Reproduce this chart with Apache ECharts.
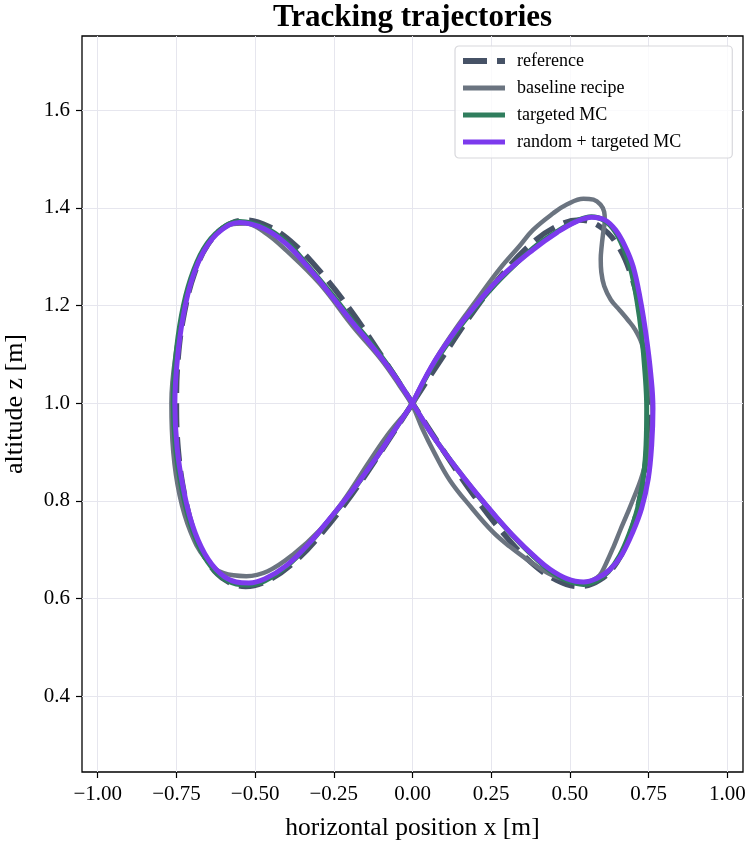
<!DOCTYPE html>
<html>
<head>
<meta charset="utf-8">
<script src="https://cdn.jsdelivr.net/npm/echarts@6/dist/echarts.min.js"></script>
<style>
  html, body { margin: 0; padding: 0; background: #ffffff; }
  #chart { width: 745px; height: 841px; }
</style>
</head>
<body>
<div id="chart"></div>
<script>
// Series names, in drawing order
const seriesNames = ['reference', 'baseline recipe', 'targeted MC', 'random + targeted MC'];

// Tick positions
const xTicks = [-1.0, -0.75, -0.5, -0.25, 0.0, 0.25, 0.5, 0.75, 1.0];
const zTicks = [0.4, 0.6, 0.8, 1.0, 1.2, 1.4, 1.6];

// [x, z] points of each trajectory
const reference = [
  [0.000,1.000],[0.098,1.097],[0.194,1.188],[0.287,1.265],[0.375,1.325],[0.457,1.362],[0.530,1.375],
  [0.595,1.362],[0.650,1.325],[0.693,1.265],[0.724,1.188],[0.744,1.097],[0.750,1.000],[0.744,0.903],
  [0.724,0.812],[0.693,0.735],[0.650,0.675],[0.595,0.638],[0.530,0.625],[0.457,0.638],[0.375,0.675],
  [0.287,0.735],[0.194,0.812],[0.098,0.903],[0.000,1.000],[-0.098,1.097],[-0.194,1.188],[-0.287,1.265],
  [-0.375,1.325],[-0.457,1.362],[-0.530,1.375],[-0.595,1.362],[-0.650,1.325],[-0.693,1.265],[-0.724,1.188],
  [-0.744,1.097],[-0.750,1.000],[-0.744,0.903],[-0.724,0.812],[-0.693,0.735],[-0.650,0.675],[-0.595,0.638],
  [-0.530,0.625],[-0.457,0.638],[-0.375,0.675],[-0.287,0.735],[-0.194,0.812],[-0.098,0.903],[0.000,1.000]
];

const baseline = [
  [0.000,0.995],[0.060,1.075],[0.129,1.145],[0.200,1.208],[0.277,1.275],[0.340,1.322],[0.383,1.355],
  [0.447,1.389],[0.490,1.407],[0.543,1.419],[0.575,1.417],[0.597,1.407],[0.609,1.392],[0.611,1.375],
  [0.606,1.350],[0.601,1.322],[0.598,1.295],[0.600,1.268],[0.609,1.240],[0.630,1.212],[0.659,1.190],
  [0.685,1.170],[0.705,1.153],[0.728,1.123],[0.742,1.085],[0.752,1.045],[0.760,1.010],[0.763,0.980],
  [0.760,0.945],[0.752,0.912],[0.740,0.878],[0.726,0.845],[0.704,0.808],[0.681,0.772],[0.660,0.740],
  [0.638,0.705],[0.615,0.672],[0.595,0.648],[0.570,0.637],[0.540,0.633],[0.500,0.637],[0.447,0.647],
  [0.400,0.664],[0.362,0.681],[0.310,0.706],[0.256,0.736],[0.185,0.788],[0.119,0.842],[0.070,0.898],
  [0.030,0.950],[0.000,0.995],[-0.040,1.035],[-0.100,1.090],[-0.189,1.157],[-0.295,1.245],[-0.401,1.313],
  [-0.470,1.350],[-0.530,1.368],[-0.580,1.366],[-0.630,1.342],[-0.680,1.290],[-0.720,1.210],[-0.750,1.110],
  [-0.766,1.000],[-0.760,0.900],[-0.740,0.812],[-0.706,0.738],[-0.660,0.684],[-0.600,0.652],[-0.528,0.646],
  [-0.460,0.656],[-0.380,0.690],[-0.295,0.740],[-0.220,0.800],[-0.136,0.882],[-0.070,0.943],[0.000,0.995]
];

const targetedMC = [
  [0.000,1.000],[0.060,1.072],[0.129,1.138],[0.200,1.197],[0.280,1.255],[0.384,1.318],[0.460,1.352],
  [0.520,1.373],[0.568,1.382],[0.610,1.374],[0.643,1.352],[0.670,1.318],[0.693,1.275],[0.713,1.210],
  [0.728,1.140],[0.739,1.060],[0.744,0.990],[0.742,0.915],[0.733,0.845],[0.715,0.785],[0.690,0.735],
  [0.658,0.688],[0.622,0.655],[0.583,0.636],[0.543,0.629],[0.490,0.637],[0.437,0.657],[0.385,0.686],
  [0.330,0.721],[0.268,0.765],[0.200,0.817],[0.129,0.876],[0.060,0.938],[0.000,1.000],[-0.070,1.070],
  [-0.140,1.130],[-0.189,1.168],[-0.260,1.226],[-0.330,1.280],[-0.400,1.330],[-0.470,1.360],[-0.549,1.372],
  [-0.612,1.355],[-0.664,1.316],[-0.705,1.255],[-0.734,1.180],[-0.753,1.090],[-0.760,1.000],[-0.753,0.910],
  [-0.733,0.825],[-0.704,0.750],[-0.663,0.688],[-0.612,0.647],[-0.560,0.630],[-0.520,0.628],[-0.470,0.636],
  [-0.400,0.666],[-0.330,0.711],[-0.260,0.765],[-0.189,0.822],[-0.120,0.884],[-0.060,0.942],[0.000,1.000]
];

const randomTargetedMC = [
  [0.000,1.000],[0.060,1.075],[0.129,1.142],[0.200,1.200],[0.280,1.258],[0.384,1.315],[0.460,1.350],
  [0.520,1.372],[0.570,1.381],[0.612,1.375],[0.645,1.355],[0.675,1.322],[0.701,1.280],[0.724,1.212],
  [0.742,1.140],[0.757,1.060],[0.764,0.990],[0.760,0.915],[0.749,0.845],[0.728,0.785],[0.701,0.738],
  [0.665,0.690],[0.628,0.660],[0.585,0.641],[0.543,0.634],[0.490,0.641],[0.437,0.660],[0.385,0.688],
  [0.330,0.722],[0.268,0.766],[0.200,0.818],[0.129,0.876],[0.060,0.938],[0.000,1.000],[-0.070,1.068],
  [-0.140,1.126],[-0.189,1.164],[-0.260,1.222],[-0.330,1.277],[-0.400,1.326],[-0.470,1.357],[-0.549,1.370],
  [-0.610,1.353],[-0.660,1.315],[-0.700,1.255],[-0.728,1.180],[-0.747,1.090],[-0.755,1.000],[-0.748,0.910],
  [-0.728,0.825],[-0.700,0.752],[-0.660,0.692],[-0.610,0.651],[-0.560,0.634],[-0.520,0.632],[-0.470,0.640],
  [-0.400,0.668],[-0.330,0.712],[-0.260,0.766],[-0.189,0.823],[-0.120,0.884],[-0.060,0.942],[0.000,1.000]
];

const seriesData = [reference, baseline, targetedMC, randomTargetedMC];
const seriesColors = ['#465266', '#6b7480', '#2f7d5d', '#7c3aed'];
const seriesWidths = [5.5, 4.5, 5, 5];
const seriesDash = [[24, 10], 'solid', 'solid', 'solid'];

const serif = '"Liberation Serif", "Times New Roman", "DejaVu Serif", serif';
const minus = v => String(v).replace('-', '\u2212');

const chart = echarts.init(document.getElementById('chart'), null, { renderer: 'canvas' });

const series = seriesNames.map((name, i) => ({
  name: name,
  type: 'line',
  data: seriesData[i],
  showSymbol: false,
  symbol: 'none',
  smooth: 0.4,
  animation: false,
  z: 2 + i,
  lineStyle: {
    color: seriesColors[i],
    width: seriesWidths[i],
    type: seriesDash[i],
    cap: 'butt',
    join: 'round'
  },
  itemStyle: { color: seriesColors[i] }
}));

// Legend entries: line samples only, no markers
const legendItems = seriesNames.map((name, i) => ({
  name: name,
  itemStyle: { opacity: 0, color: 'transparent', borderColor: 'transparent', borderWidth: 0 },
  lineStyle: { color: seriesColors[i], width: i === 0 ? 6 : 5, type: seriesDash[i], cap: 'butt', opacity: 1 }
}));

chart.setOption({
  animation: false,
  backgroundColor: '#ffffff',
  title: {
    text: 'Tracking trajectories',
    left: 412.5,
    top: 2,
    textAlign: 'center',
    padding: 0,
    textStyle: { fontFamily: serif, fontSize: 31, fontWeight: 'bold', color: '#000' }
  },
  legend: {
    data: legendItems,
    orient: 'vertical',
    left: 455,
    top: 46,
    padding: [6, 51, 7, 5],
    itemGap: 9,
    itemWidth: 42,
    itemHeight: 14,
    backgroundColor: 'rgba(255,255,255,0.8)',
    borderColor: '#d8d8dc',
    borderWidth: 1.2,
    borderRadius: 4,
    itemStyle: { opacity: 0 },
    textStyle: { fontFamily: serif, fontSize: 18, color: '#000', padding: [0, 0, 0, 7] }
  },
  grid: {
    left: 82, right: 2, top: 36, bottom: 69,
    outerBoundsMode: 'none',
    containLabel: false,
    show: true,
    borderColor: '#000',
    borderWidth: 1.3,
    backgroundColor: 'transparent'
  },
  xAxis: {
    type: 'value',
    min: -1.05,
    max: 1.05,
    name: 'horizontal position x [m]',
    nameLocation: 'middle',
    nameGap: 43,
    nameTextStyle: { fontFamily: serif, fontSize: 25.5, color: '#000' },
    axisLine: { show: false, onZero: false },
    axisTick: { show: true, inside: false, length: 6, customValues: xTicks, lineStyle: { color: '#000', width: 1.2 } },
    axisLabel: {
      customValues: xTicks,
      margin: 12,
      fontFamily: serif, fontSize: 21, color: '#000',
      formatter: v => minus(v.toFixed(2))
    },
    splitLine: { show: true, lineStyle: { color: '#e6e6ee', width: 1 } }
  },
  yAxis: {
    type: 'value',
    min: 0.245,
    max: 1.752,
    name: 'altitude z [m]',
    nameLocation: 'middle',
    nameGap: 54,
    nameRotate: 90,
    nameTextStyle: { fontFamily: serif, fontSize: 26, color: '#000' },
    axisLine: { show: false, onZero: false },
    axisTick: { show: true, inside: false, length: 6, customValues: zTicks, lineStyle: { color: '#000', width: 1.2 } },
    axisLabel: {
      customValues: zTicks,
      margin: 12,
      fontFamily: serif, fontSize: 21, color: '#000',
      formatter: v => minus(v.toFixed(1))
    },
    splitLine: { show: true, lineStyle: { color: '#e6e6ee', width: 1 } }
  },
  series: series
});
</script>
</body>
</html>
